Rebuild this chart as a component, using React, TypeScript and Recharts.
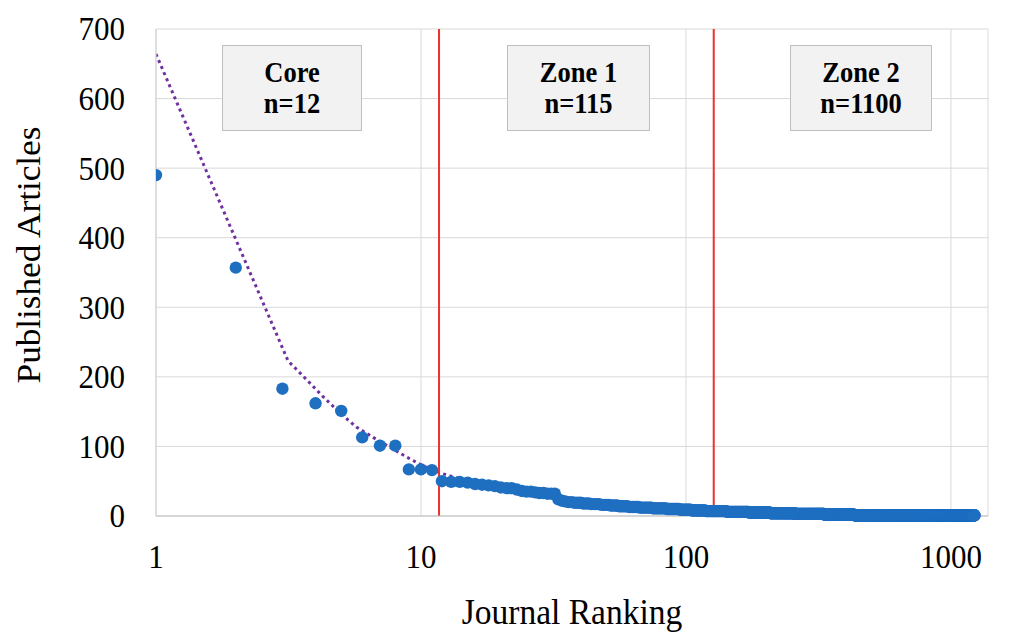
import React from "react";
import {
  ComposedChart,
  Scatter,
  Line,
  XAxis,
  YAxis,
  CartesianGrid,
  ReferenceLine,
} from "recharts";

// Articles per journal, ranks 1-12 (core)
const coreArticles = [490, 357, 183, 162, 151, 113, 101, 101, 67, 67, 66, 50];
// Zone 1 (ranks 13-127) as [articles, number of journals]
const zone1Runs: [number, number][] = [
  [49, 2], [48, 1], [46, 1], [45, 1], [44, 1], [43, 1], [41, 1], [40, 2],
  [38, 1], [36, 1], [35, 2], [34, 1], [33, 2], [32, 3],
  [24, 1], [22, 1], [21, 1], [20, 2], [19, 3], [18, 3], [17, 4],
  [16, 4], [15, 4], [14, 5], [13, 6],
  [12, 8], [11, 10], [10, 10],
  [9, 10], [8, 14], [7, 9],
];
// Zone 2 (ranks 128-1227) as [articles, number of journals]
const zone2Runs: [number, number][] = [
  [7, 15], [6, 30], [5, 35], [4, 50], [3, 75], [2, 100], [1, 795],
];

// Trend line
const trendRanks = [1, 3.15, 3.7, 4.26, 4.95, 5.7, 6.6, 7.86, 8.8, 10.2, 11.8, 14.4, 17.1, 20.4, 24.3, 28.8, 33.5, 44.6, 59.7, 79.6, 92, 120, 200, 400, 800, 1227];
const trendValues = [664, 223, 196, 172, 148, 128, 113, 96, 85, 72, 62, 52, 45, 39, 33, 28, 23, 17, 13, 10, 9, 7, 5, 3, 2, 1.5];

const zoneBoundaries = [11.7, 127.3];
const xTicks = [1, 10, 100, 1000];
const yTicks = [0, 100, 200, 300, 400, 500, 600, 700];

const zoneLabels = [
  { title: "Core", n: "n=12" },
  { title: "Zone 1", n: "n=115" },
  { title: "Zone 2", n: "n=1100" },
];

const articleList: number[] = [...coreArticles];
[...zone1Runs, ...zone2Runs].forEach(([v, c]) => {
  for (let i = 0; i < c; i++) articleList.push(v);
});
const points = articleList.map((y, i) => ({ x: i + 1, y }));
const trend = trendRanks.map((x, i) => ({ x, y: trendValues[i] }));

const FONT = "'Liberation Serif', 'Times New Roman', serif";
const STRETCH = 1.08;

const boxStyles: React.CSSProperties[] = [
  { left: 222, width: 140 },
  { left: 507, width: 143 },
  { left: 790, width: 142 },
];

const Dot = (props: any) => (
  <circle cx={props.cx} cy={props.cy} r={6.2} fill="#1F6FC1" />
);

const YTick = (props: any) => (
  <g transform={`translate(${props.x},${props.y}) scale(1,${STRETCH})`}>
    <text x={0} y={0} dy="0.34em" textAnchor="end" fontSize={31} fontFamily={FONT} fill="#000">
      {props.payload.value}
    </text>
  </g>
);

const XTick = (props: any) => (
  <g transform={`translate(${props.x},${props.y}) scale(1,${STRETCH})`}>
    <text x={0} y={0} textAnchor="middle" fontSize={31} fontFamily={FONT} fill="#000">
      {props.payload.value}
    </text>
  </g>
);

export default function App() {
  return (
    <div style={{ position: "absolute", left: 0, top: 0, width: 1016, height: 632, background: "#fff", overflow: "hidden" }}>
      <ComposedChart
        width={1016}
        height={632}
        margin={{ top: 29, right: 28, bottom: 0, left: 0 }}
      >
        <CartesianGrid stroke="#D9D9D9" strokeWidth={1} />
        <XAxis
          dataKey="x"
          type="number"
          scale="log"
          domain={[1, 1380]}
          allowDataOverflow
          ticks={xTicks}
          tickLine={false}
          tickSize={0}
          tickMargin={51.5}
          height={116}
          axisLine={{ stroke: "#BFBFBF" }}
          tick={XTick}
          label={() => (
            <g transform={`translate(572,624) scale(1,${STRETCH})`}>
              <text x={0} y={0} textAnchor="middle" fontSize={33.5} fontFamily={FONT} fill="#000">
                Journal Ranking
              </text>
            </g>
          )}
        />
        <YAxis
          type="number"
          domain={[0, 700]}
          ticks={yTicks}
          width={156}
          tickLine={false}
          tickSize={0}
          tickMargin={31}
          axisLine={{ stroke: "#D0D0D0" }}
          tick={YTick}
          label={() => (
            <g transform={`translate(40,255) rotate(-90) scale(1.05,1)`}>
              <text x={0} y={0} textAnchor="middle" fontSize={33.5} fontFamily={FONT} fill="#000">
                Published Articles
              </text>
            </g>
          )}
        />
        <Scatter data={points} dataKey="y" shape={Dot} isAnimationActive={false} />
        <Line
          data={trend}
          dataKey="y"
          type="linear"
          stroke="#7030A0"
          strokeWidth={3}
          strokeDasharray="3 3.6"
          dot={false}
          activeDot={false}
          isAnimationActive={false}
        />
        {zoneBoundaries.map((b) => (
          <ReferenceLine key={b} x={b} stroke="#EE3030" strokeWidth={2} />
        ))}
      </ComposedChart>
      {zoneLabels.map((z, i) => (
        <div
          key={z.title}
          style={{
            position: "absolute",
            top: 45,
            height: 86,
            ...boxStyles[i],
            boxSizing: "border-box",
            background: "#F2F2F2",
            border: "1px solid #BFBFBF",
            display: "flex",
            flexDirection: "column",
            justifyContent: "center",
            alignItems: "center",
            fontFamily: FONT,
            fontWeight: "bold",
            fontSize: 26.5,
            lineHeight: "31px",
            color: "#000",
          }}
        >
          <div style={{ transform: `scaleY(${STRETCH})` }}>{z.title}</div>
          <div style={{ transform: `scaleY(${STRETCH})` }}>{z.n}</div>
        </div>
      ))}
    </div>
  );
}
